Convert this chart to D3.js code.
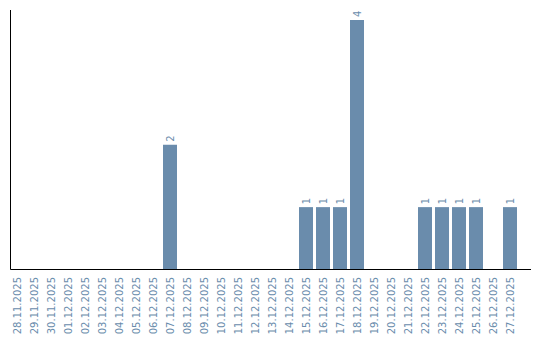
<!DOCTYPE html>
<html>
<head>
<meta charset="utf-8">
<script src="https://cdn.jsdelivr.net/npm/d3@7/dist/d3.min.js"></script>
<style>
  html, body { margin: 0; padding: 0; background: #fff; }
  svg { display: block; }
  text { font-family: "DejaVu Sans", sans-serif; }
</style>
</head>
<body>
<div id="chart"></div>
<script>
const dates = ["28.11.2025","29.11.2025","30.11.2025","01.12.2025","02.12.2025","03.12.2025",
  "04.12.2025","05.12.2025","06.12.2025","07.12.2025","08.12.2025","09.12.2025","10.12.2025",
  "11.12.2025","12.12.2025","13.12.2025","14.12.2025","15.12.2025","16.12.2025","17.12.2025",
  "18.12.2025","19.12.2025","20.12.2025","21.12.2025","22.12.2025","23.12.2025","24.12.2025",
  "25.12.2025","26.12.2025","27.12.2025"];
const counts = [0,0,0,0,0,0,0,0,0,2,0,0,0,0,0,0,0,1,1,1,4,0,0,0,1,1,1,1,0,1];

const W = 540, H = 340;
const barColor = "#6a8cac";
const textColor = "#6a8cac";

const svg = d3.select("#chart").append("svg").attr("width", W).attr("height", H);

const x = d3.scaleBand().domain(dates).range([10, 520])
  .paddingInner(3/17).paddingOuter(1.5/17).align(0);
const y = d3.scaleLinear().domain([0, 4]).range([269.5, 20]);

const data = dates.map((d, i) => ({date: d, value: counts[i]}));

svg.append("g").selectAll("rect")
  .data(data.filter(d => d.value > 0))
  .join("rect")
  .attr("x", d => x(d.date))
  .attr("y", d => y(d.value))
  .attr("width", x.bandwidth())
  .attr("height", d => y(0) - y(d.value))
  .attr("fill", barColor);

svg.append("g").selectAll("text")
  .data(data.filter(d => d.value > 0))
  .join("text")
  .attr("transform", d => `translate(${x(d.date) + x.bandwidth()/2},${y(d.value) - 3}) rotate(-90)`)
  .attr("dy", "0.35em")
  .attr("text-anchor", "start")
  .attr("fill", textColor)
  .attr("font-size", 10)
  .text(d => d.value);

// x axis labels
const xAxis = svg.append("g").attr("transform", "translate(0,269.5)")
  .call(d3.axisBottom(x).tickSize(0).tickSizeOuter(0));
xAxis.select(".domain").remove();
xAxis.selectAll("text")
  .attr("transform", "translate(0,7.5) rotate(-90)")
  .attr("x", 0).attr("y", 0)
  .attr("dy", "0.35em")
  .attr("text-anchor", "end")
  .attr("fill", textColor)
  .attr("font-size", 10)
  .attr("font-family", "DejaVu Sans, sans-serif");

// axis lines
svg.append("line").attr("x1", 10.5).attr("x2", 531).attr("y1", 269.5).attr("y2", 269.5)
  .attr("stroke", "#000").attr("stroke-width", 1);
svg.append("line").attr("x1", 10.5).attr("x2", 10.5).attr("y1", 10).attr("y2", 269.5)
  .attr("stroke", "#000").attr("stroke-width", 1);
</script>
</body>
</html>
